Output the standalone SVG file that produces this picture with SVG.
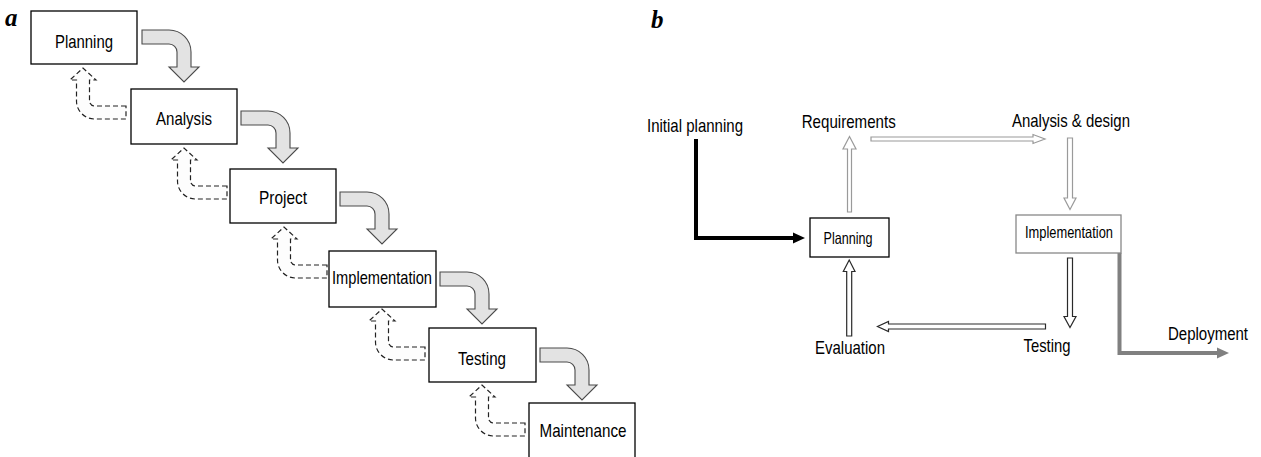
<svg xmlns="http://www.w3.org/2000/svg" width="1261" height="457" viewBox="0 0 1261 457">
<style>
.box{fill:#fff;stroke:#000;stroke-width:1.3}
.t{font-family:"Liberation Sans",Arial,sans-serif;font-size:18.5px;fill:#000;text-anchor:middle}
.tb{font-family:"Liberation Sans",Arial,sans-serif;font-size:19px;fill:#000;text-anchor:middle}
.ts{font-family:"Liberation Sans",Arial,sans-serif;font-size:16.5px;fill:#000;text-anchor:middle}
.lbl{font-family:"Liberation Serif","Times New Roman",serif;font-size:25px;font-weight:bold;font-style:italic;fill:#000}
.garrow{fill:#e3e3e3;stroke:#4a4a4a;stroke-width:1.1}
.darrow{fill:#fdfdfd;stroke:#222;stroke-width:1.2;stroke-dasharray:5 3}
.hl{fill:#fff;stroke:#9a9a9a;stroke-width:1.2}
.hd{fill:#fff;stroke:#2a2a2a;stroke-width:1.2}
</style>
<defs>
<path id="gray" d="M0,0 H27 A22 22 0 0 1 49,22 V37 H57 L42,52 L27,37 H35 V22 A8 8 0 0 0 27,14 H0 Z"/>
<path id="dash" d="M0,0 H-31.5 A5 5 0 0 1 -36.5,-5 V-26 H-30 L-43,-38 L-56,-26 H-49.5 V-5 A18 18 0 0 0 -31.5,13 H0 Z"/>
</defs>
<rect width="1261" height="457" fill="#fff"/>
<text class="lbl" x="5" y="26">a</text>
<text class="lbl" x="651" y="28">b</text>

<g id="connectors">
<use href="#gray" class="garrow" transform="translate(142,30)"/>
<use href="#gray" class="garrow" transform="translate(241,111)"/>
<use href="#gray" class="garrow" transform="translate(340,192)"/>
<use href="#gray" class="garrow" transform="translate(440,272)"/>
<use href="#gray" class="garrow" transform="translate(540,348)"/>
<use href="#dash" class="darrow" transform="translate(126,106)"/>
<use href="#dash" class="darrow" transform="translate(227,186)"/>
<use href="#dash" class="darrow" transform="translate(327,265)"/>
<use href="#dash" class="darrow" transform="translate(425,347)"/>
<use href="#dash" class="darrow" transform="translate(525,423)"/>

<polyline points="696,139 696,238 795,238" fill="none" stroke="#000" stroke-width="4"/>
<polygon points="793,232.5 805,238 793,243.5" fill="#000"/>
<path class="hl" d="M847.5,212 V149 H843 L849.5,136.5 L856,149 H851.5 V212 Z"/>
<path class="hl" d="M871,137 H1033 V134.5 L1045,139 L1033,143.5 V141 H871 Z"/>
<path class="hl" d="M1067.5,138 V198 H1064 L1070,209.5 L1076,198 H1072.5 V138 Z"/>
<path class="hd" d="M1067.5,258 V316.5 H1064 L1070,327.5 L1076,316.5 H1072.5 V258 Z"/>
<path class="hd" d="M1045.5,324 H888.5 V321.5 L877.5,326.5 L888.5,331.5 V329 H1045.5 Z"/>
<path class="hd" d="M846.7,336 V271.5 H843.3 L849.2,260 L855,271.5 H851.7 V336 Z"/>
<polyline points="1119.5,253 1119.5,353 1218,353" fill="none" stroke="#808080" stroke-width="4"/>
<polygon points="1217,347.5 1229,353 1217,358.5" fill="#808080"/>
</g>

<g id="a-planning"><rect class="box" x="31" y="11" width="106" height="53"/><text class="t" x="84" y="48" textLength="58" lengthAdjust="spacingAndGlyphs">Planning</text></g>
<g id="a-analysis"><rect class="box" x="131" y="89" width="106" height="55"/><text class="t" x="184" y="124.5" textLength="56" lengthAdjust="spacingAndGlyphs">Analysis</text></g>
<g id="a-project"><rect class="box" x="230" y="169" width="106" height="54"/><text class="t" x="283" y="203.5" textLength="48" lengthAdjust="spacingAndGlyphs">Project</text></g>
<g id="a-implementation"><rect class="box" x="329" y="251" width="107" height="56"/><text class="t" x="382" y="283.5" textLength="100" lengthAdjust="spacingAndGlyphs">Implementation</text></g>
<g id="a-testing"><rect class="box" x="429" y="328" width="107" height="54"/><text class="t" x="482" y="364.5" textLength="48" lengthAdjust="spacingAndGlyphs">Testing</text></g>
<g id="a-maintenance"><rect class="box" x="529" y="403" width="106" height="60"/><text class="t" x="583" y="437" textLength="87" lengthAdjust="spacingAndGlyphs">Maintenance</text></g>

<g id="b-initial"><text class="tb" x="695" y="131.5" textLength="96" lengthAdjust="spacingAndGlyphs">Initial planning</text></g>
<g id="b-requirements"><text class="tb" x="848.7" y="127.5" textLength="94" lengthAdjust="spacingAndGlyphs">Requirements</text></g>
<g id="b-analysis"><text class="tb" x="1071" y="126.5" textLength="118" lengthAdjust="spacingAndGlyphs">Analysis &amp; design</text></g>
<g id="b-planning"><rect class="box" x="810" y="218" width="79" height="39"/><text class="ts" x="848" y="243.5" textLength="49" lengthAdjust="spacingAndGlyphs">Planning</text></g>
<g id="b-implementation"><rect x="1016" y="215" width="105" height="38" fill="#fff" stroke="#888" stroke-width="1.3"/><text class="ts" x="1069" y="238" textLength="88" lengthAdjust="spacingAndGlyphs">Implementation</text></g>
<g id="b-testing"><text class="tb" x="1047" y="351.5" textLength="47" lengthAdjust="spacingAndGlyphs">Testing</text></g>
<g id="b-evaluation"><text class="tb" x="850" y="354" textLength="70" lengthAdjust="spacingAndGlyphs">Evaluation</text></g>
<g id="b-deployment"><text class="tb" transform="translate(1208,340) scale(0.79,1)" x="0" y="0">Deployment</text></g>
</svg>
